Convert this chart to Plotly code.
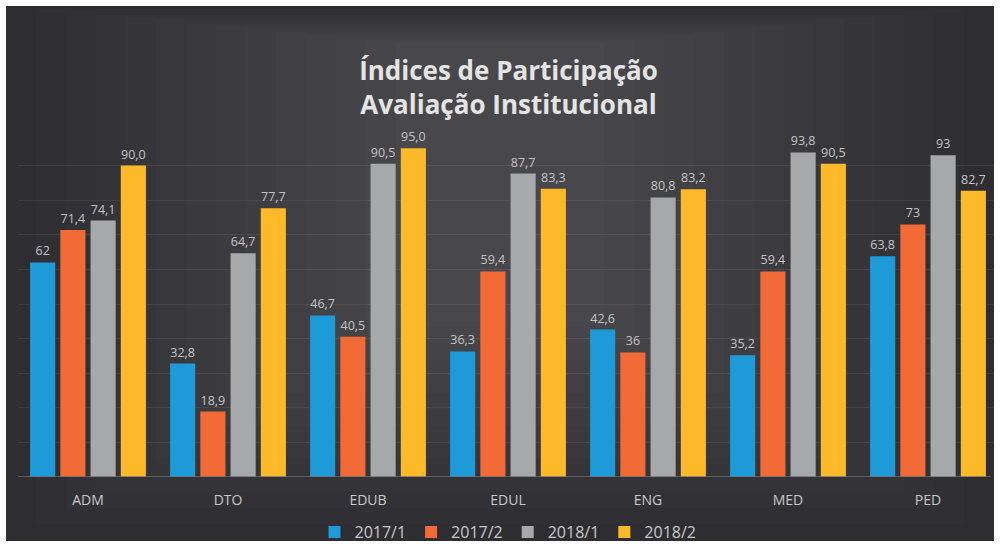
import plotly.graph_objects as go

categories = ["ADM", "DTO", "EDUB", "EDUL", "ENG", "MED", "PED"]
series_names = ["2017/1", "2017/2", "2018/1", "2018/2"]
v2017_1 = [62, 32.8, 46.7, 36.3, 42.6, 35.2, 63.8]
v2017_2 = [71.4, 18.9, 40.5, 59.4, 36, 59.4, 73]
v2018_1 = [74.1, 64.7, 90.5, 87.7, 80.8, 93.8, 93]
v2018_2 = [90.0, 77.7, 95.0, 83.3, 83.2, 90.5, 82.7]
lbl2017_1 = ["62", "32,8", "46,7", "36,3", "42,6", "35,2", "63,8"]
lbl2017_2 = ["71,4", "18,9", "40,5", "59,4", "36", "59,4", "73"]
lbl2018_1 = ["74,1", "64,7", "90,5", "87,7", "80,8", "93,8", "93"]
lbl2018_2 = ["90,0", "77,7", "95,0", "83,3", "83,2", "90,5", "82,7"]
colors = ["#1e9ad8", "#f26a36", "#a6a8a9", "#fcb92a"]

W, H = 1001, 547
ml, mr, mt, mb = 18, 3, 131, 70
pw = W - ml - mr
ph = H - mt - mb

fig = go.Figure()
for name, vals, lbls, col in zip(series_names, [v2017_1, v2017_2, v2018_1, v2018_2],
                                 [lbl2017_1, lbl2017_2, lbl2018_1, lbl2018_2], colors):
    fig.add_trace(go.Bar(
        x=categories, y=vals, name=name, text=lbls,
        textposition="outside", cliponaxis=False,
        textfont=dict(family="Open Sans", size=12.5, color="#c4c4c4"),
        marker=dict(color=col, line=dict(width=0)),
    ))

def px_x(p):
    return (p - ml) / pw

def px_y(p):
    return (H - mb - p) / ph

shapes = []
shapes.append(dict(type="rect", xref="paper", yref="paper", layer="below",
                   x0=px_x(6), x1=px_x(994), y0=px_y(541), y1=px_y(6),
                   fillcolor="#2c2c30", line=dict(width=0)))
steps = 14
for i in range(steps):
    f = i / steps
    x0 = 6 + f * 420
    x1 = 994 - f * 420
    y0 = 6 + f * 40
    y1 = 541 - f * 230
    shapes.append(dict(type="rect", xref="paper", yref="paper", layer="below",
                       x0=px_x(x0), x1=px_x(x1), y0=px_y(y1), y1=px_y(y0),
                       fillcolor="rgba(255,255,255,0.012)", line=dict(width=0)))
# baseline
shapes.append(dict(type="line", xref="paper", yref="y", layer="above",
                   x0=0, x1=px_x(991), y0=0, y1=0,
                   line=dict(color="#727274", width=1.5)))

fig.update_layout(
    width=W, height=H,
    margin=dict(l=ml, r=mr, t=mt, b=mb, autoexpand=False),
    paper_bgcolor="#ffffff",
    plot_bgcolor="rgba(0,0,0,0)",
    shapes=shapes,
    barmode="group", bargap=0.136, bargroupgap=0.17,
    title=dict(text="Índices de Participação<br>Avaliação Institucional",
               x=0.508, xanchor="center", y=1 - 80 / H, yanchor="top", yref="container",
               font=dict(family="Open Sans", size=26, color="#e4e4e4", weight="bold")),
    xaxis=dict(showgrid=False, showline=False, ticks="", zeroline=False,
               ticklabelstandoff=13,
               tickfont=dict(family="Open Sans", size=14, color="#c8c8c8")),
    yaxis=dict(range=[0, 100], dtick=10, showticklabels=False, showgrid=True,
               gridcolor="rgba(255,255,255,0.07)", gridwidth=1,
               zeroline=False, showline=False, ticks=""),
    legend=dict(orientation="h", x=0.5, xanchor="center",
                yref="container", y=(H - 532) / H, yanchor="middle",
                font=dict(family="Open Sans", size=16, color="#c8c8c8"),
                bgcolor="rgba(0,0,0,0)", itemwidth=30, tracegroupgap=0),
    showlegend=True,
)

fig.write_html("out.html", config={"displayModeBar": False},
               post_script="document.body.style.margin='0';")
